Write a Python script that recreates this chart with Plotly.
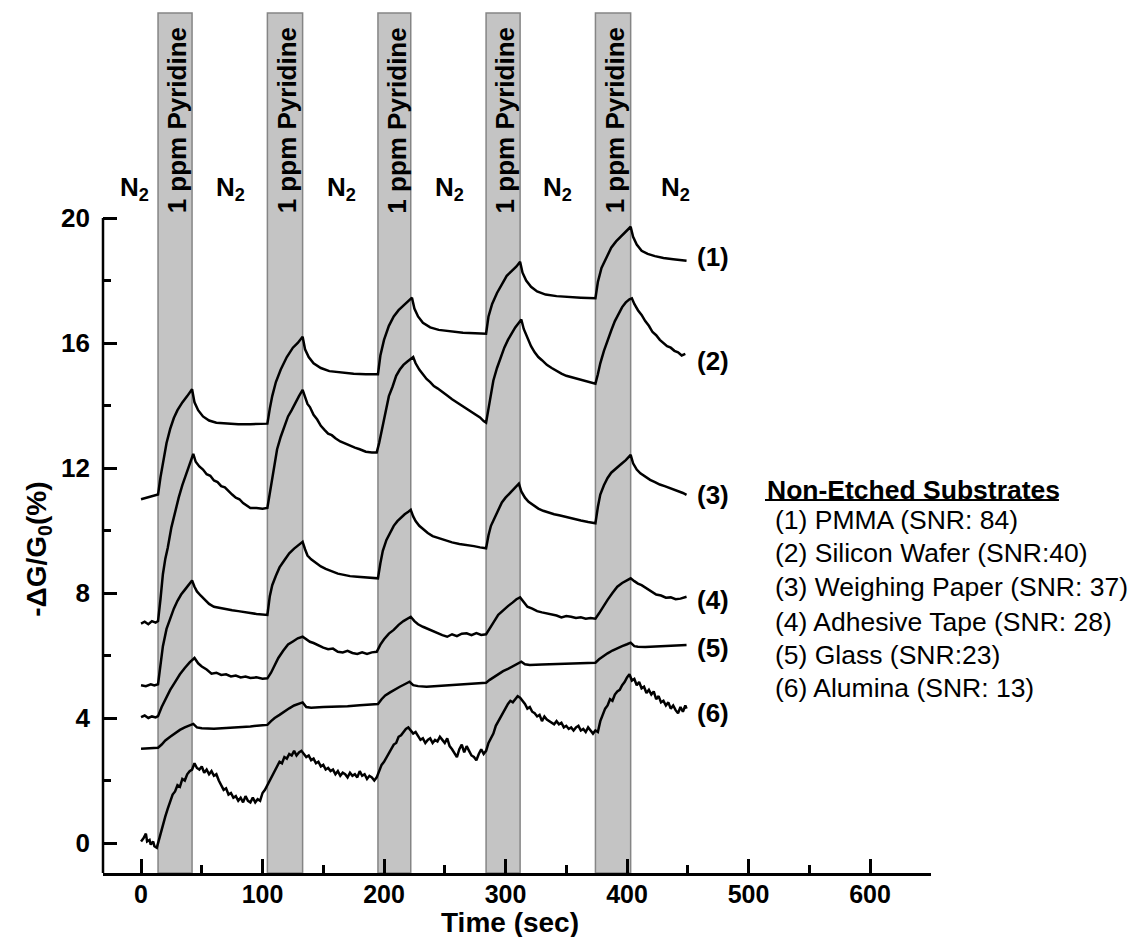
import plotly.graph_objects as go

# ---------------- data ----------------
band_start = [14, 104, 195, 284, 374]
band_end = [42, 133, 222, 312, 403]

n2_label_x = [-5, 74, 164.6, 253.5, 342.4, 440.3]

x_ticks = [0, 100, 200, 300, 400, 500, 600]
x_minor = [50, 150, 250, 350, 450, 550, 650]
y_ticks = [0, 4, 8, 12, 16, 20]
y_minor = [2, 6, 10, 14, 18]

# (1) PMMA
t1 = [0, 5, 10, 14, 16, 18, 21, 24, 27, 30, 34, 38, 42, 44, 47, 51, 56, 62, 70, 80, 90, 100, 104,
      106, 108, 111, 115, 120, 125, 129, 133, 135, 138, 142, 148, 155, 165, 175, 185, 195,
      197, 200, 204, 208, 212, 216, 220, 223, 225, 228, 232, 238, 245, 255, 265, 275, 284,
      286, 289, 293, 297, 301, 305, 309, 312, 314, 317, 321, 326, 333, 342, 352, 362, 374,
      376, 379, 383, 387, 391, 395, 399, 403, 405, 408, 412, 417, 423, 430, 438, 446, 449]
v1 = [11.0, 11.05, 11.1, 11.15, 11.7, 12.2, 12.8, 13.25, 13.6, 13.85, 14.1, 14.3, 14.52, 14.1, 13.85, 13.65, 13.52, 13.45, 13.42, 13.4, 13.4, 13.4, 13.42,
      13.9, 14.3, 14.75, 15.15, 15.55, 15.85, 16.0, 16.2, 15.8, 15.55, 15.35, 15.2, 15.1, 15.05, 15.02, 15.0, 15.0,
      15.6, 16.1, 16.55, 16.85, 17.05, 17.2, 17.35, 17.45, 17.1, 16.85, 16.65, 16.5, 16.42, 16.37, 16.33, 16.31, 16.3,
      16.85, 17.25, 17.6, 17.9, 18.15, 18.3, 18.45, 18.6, 18.25, 18.0, 17.8, 17.65, 17.55, 17.5, 17.47, 17.45, 17.43,
      17.95, 18.4, 18.75, 19.05, 19.25, 19.4, 19.55, 19.72, 19.4, 19.15, 18.95, 18.85, 18.78, 18.72, 18.68, 18.65, 18.63]

# (2) Silicon Wafer
t2 = [0, 3, 6, 9, 12, 14, 16, 18, 20, 22, 25, 28, 31, 34, 37, 40, 43, 45, 48, 51, 54, 57, 60, 63, 66, 69, 72, 75, 78, 81, 84, 87, 90, 95, 100, 104,
      106, 108, 110, 112, 115, 118, 121, 124, 127, 130, 133, 135, 137, 139, 142, 145, 148, 151, 154, 157, 160, 164, 168, 172, 176, 180, 185, 190, 194,
      196, 198, 200, 202, 204, 207, 210, 213, 216, 219, 222, 224, 226, 229, 232, 235, 238, 241, 244, 248, 252, 256, 260, 264, 268, 272, 276, 279, 282, 284,
      286, 288, 290, 293, 296, 299, 302, 305, 308, 311, 313, 315, 317, 319, 321, 324, 327, 330, 334, 338, 342, 346, 350, 355, 360, 365, 370, 374,
      376, 378, 381, 384, 387, 390, 393, 396, 399, 402, 404, 406, 409, 412, 415, 418, 421, 424, 427, 430, 433, 436, 439, 442, 445, 448]
v2 = [7.02, 7.08, 7.0, 7.1, 7.05, 7.1, 7.8, 8.6, 9.1, 9.45, 10.1, 10.6, 11.05, 11.45, 11.8, 12.15, 12.45, 12.2, 12.05, 11.95, 11.8, 11.75, 11.6, 11.55, 11.42, 11.38, 11.25, 11.15, 11.05, 11.0, 10.88, 10.8, 10.72, 10.72, 10.7, 10.72,
      11.2, 11.7, 12.2, 12.6, 13.0, 13.35, 13.65, 13.85, 14.1, 14.3, 14.5, 14.3, 14.05, 13.95, 13.7, 13.55, 13.35, 13.22, 13.1, 13.05, 12.95, 12.85, 12.78, 12.72, 12.65, 12.6, 12.52, 12.5, 12.5,
      12.8, 13.2, 13.55, 13.95, 14.3, 14.6, 14.95, 15.15, 15.3, 15.4, 15.5, 15.55, 15.35, 15.15, 15.0, 14.85, 14.75, 14.62, 14.55, 14.42, 14.32, 14.2, 14.1, 14.0, 13.92, 13.8, 13.7, 13.62, 13.5, 13.45,
      13.9, 14.4, 14.8, 15.2, 15.55, 15.85, 16.1, 16.3, 16.5, 16.65, 16.75, 16.45, 16.25, 16.1, 15.9, 15.7, 15.55, 15.45, 15.3, 15.2, 15.1, 15.02, 14.95, 14.9, 14.85, 14.8, 14.75, 14.7,
      15.0, 15.35, 15.75, 16.1, 16.4, 16.7, 16.95, 17.15, 17.3, 17.4, 17.43, 17.25, 17.05, 16.9, 16.7, 16.55, 16.35, 16.25, 16.1, 16.0, 15.9, 15.85, 15.75, 15.7, 15.6, 15.65]

# (3) Weighing Paper
t3 = [0, 4, 8, 11, 14, 16, 18, 21, 24, 27, 30, 33, 36, 39, 42, 44, 46, 49, 52, 56, 60, 65, 70, 75, 80, 85, 90, 95, 100, 104,
      106, 108, 111, 114, 118, 122, 126, 130, 133, 135, 137, 140, 144, 148, 152, 157, 162, 167, 172, 178, 184, 190, 195,
      197, 199, 202, 205, 208, 211, 214, 217, 220, 222, 224, 226, 229, 232, 236, 240, 245, 250, 256, 262, 268, 274, 279, 284,
      286, 288, 291, 294, 297, 300, 304, 308, 311, 313, 316, 319, 323, 327, 331, 335, 340, 345, 350, 356, 362, 368, 374,
      376, 378, 381, 384, 387, 391, 395, 399, 403, 405, 408, 411, 415, 419, 423, 427, 431, 436, 441, 446, 449]
v3 = [5.05, 5.02, 5.08, 5.04, 5.08, 5.7, 6.3, 6.85, 7.2, 7.5, 7.75, 7.95, 8.1, 8.25, 8.4, 8.2, 8.05, 7.92, 7.8, 7.65, 7.56, 7.52, 7.47, 7.45, 7.42, 7.38, 7.36, 7.33, 7.3, 7.3,
      7.9, 8.25, 8.55, 8.82, 9.05, 9.27, 9.42, 9.55, 9.64, 9.4, 9.2, 9.08, 8.95, 8.85, 8.77, 8.7, 8.62, 8.58, 8.54, 8.52, 8.5, 8.48, 8.47,
      8.95, 9.35, 9.7, 9.95, 10.15, 10.3, 10.42, 10.52, 10.6, 10.66, 10.45, 10.3, 10.15, 10.05, 9.92, 9.82, 9.75, 9.68, 9.62, 9.57, 9.54, 9.5, 9.46, 9.43,
      9.85, 10.15, 10.4, 10.65, 10.9, 11.05, 11.22, 11.38, 11.5, 11.25, 11.05, 10.92, 10.8, 10.7, 10.63, 10.58, 10.52, 10.48, 10.44, 10.38, 10.32, 10.27, 10.23,
      10.75, 11.15, 11.45, 11.68, 11.85, 12.0, 12.12, 12.25, 12.42, 12.15, 11.95, 11.83, 11.72, 11.62, 11.55, 11.47, 11.42, 11.35, 11.28, 11.2, 11.14]

# (4) Adhesive Tape
t4 = [0, 3, 6, 9, 12, 14, 17, 20, 24, 28, 32, 36, 40, 44, 47, 50, 54, 58, 62, 66, 70, 74, 78, 82, 86, 90, 95, 100, 104,
      107, 110, 113, 117, 121, 125, 129, 133, 136, 139, 142, 146, 150, 154, 158, 162, 166, 170, 174, 178, 182, 186, 190, 194,
      197, 200, 204, 208, 212, 216, 219, 222, 225, 228, 232, 236, 240, 244, 248, 252, 256, 260, 264, 268, 272, 276, 280, 284,
      287, 290, 294, 298, 302, 306, 309, 312, 315, 318, 322, 326, 330, 334, 338, 342, 346, 350, 354, 358, 362, 366, 370, 374,
      377, 380, 384, 388, 392, 396, 400, 403, 406, 409, 412, 416, 420, 424, 428, 432, 436, 440, 444, 447, 449]
v4 = [4.03, 4.08, 4.0, 4.05, 4.02, 4.06, 4.35, 4.6, 4.9, 5.15, 5.4, 5.6, 5.78, 5.92, 5.75, 5.65, 5.55, 5.42, 5.45, 5.38, 5.4, 5.33, 5.36, 5.3, 5.33, 5.28, 5.3, 5.26, 5.27,
      5.45, 5.7, 5.92, 6.15, 6.35, 6.45, 6.55, 6.6, 6.52, 6.44, 6.4, 6.32, 6.25, 6.2, 6.22, 6.12, 6.1, 6.15, 6.08, 6.05, 6.1, 6.05, 6.1, 6.12,
      6.35, 6.52, 6.7, 6.82, 6.98, 7.1, 7.18, 7.24, 7.1, 7.0, 6.92, 6.85, 6.78, 6.72, 6.65, 6.6, 6.68, 6.62, 6.7, 6.71, 6.65, 6.72, 6.66, 6.68,
      6.85, 7.05, 7.3, 7.45, 7.58, 7.7, 7.8, 7.86, 7.7, 7.56, 7.5, 7.42, 7.38, 7.35, 7.3, 7.28, 7.22, 7.26, 7.24, 7.2, 7.22, 7.18, 7.2, 7.18,
      7.35, 7.55, 7.78, 8.0, 8.2, 8.32, 8.4, 8.47, 8.38, 8.3, 8.25, 8.15, 8.05, 7.95, 7.92, 7.85, 7.86, 7.8, 7.82, 7.86, 7.88]

# (5) Glass
t5 = [0, 7, 14, 17, 20, 24, 28, 32, 36, 40, 43, 46, 50, 60, 70, 80, 90, 100, 104,
      107, 110, 114, 118, 122, 126, 130, 133, 136, 140, 150, 160, 170, 180, 190, 195,
      198, 201, 205, 209, 213, 217, 221, 224, 228, 235, 245, 255, 265, 275, 284,
      287, 290, 294, 298, 302, 306, 310, 313, 316, 320, 330, 340, 350, 360, 370, 374,
      377, 380, 384, 388, 392, 396, 400, 403, 406, 409, 415, 425, 435, 445, 449]
v5 = [3.02, 3.03, 3.05, 3.15, 3.28, 3.4, 3.52, 3.62, 3.7, 3.76, 3.81, 3.7, 3.67, 3.66, 3.68, 3.7, 3.73, 3.77, 3.78,
      3.9, 4.0, 4.1, 4.22, 4.31, 4.4, 4.46, 4.5, 4.35, 4.33, 4.35, 4.36, 4.38, 4.41, 4.43, 4.45,
      4.6, 4.72, 4.82, 4.92, 5.0, 5.08, 5.16, 5.05, 5.02, 5.0, 5.03, 5.06, 5.08, 5.1, 5.13,
      5.22, 5.3, 5.4, 5.5, 5.57, 5.65, 5.73, 5.8, 5.72, 5.7, 5.71, 5.72, 5.74, 5.75, 5.76, 5.77,
      5.88, 5.97, 6.07, 6.16, 6.24, 6.3, 6.36, 6.41, 6.3, 6.28, 6.27, 6.29, 6.31, 6.33, 6.34]

# (6) Alumina
t6 = [0, 2, 4, 5, 7, 8, 10, 11, 13, 14, 16, 18, 20, 22, 24, 26, 28, 30, 32, 34, 36, 38, 40, 42, 44, 46, 48, 50, 52, 54, 56, 58, 60,
      62, 64, 66, 68, 70, 72, 74, 76, 78, 80, 82, 84, 86, 88, 90, 92, 94, 96, 98, 100, 102, 104, 106, 108, 110, 112, 114, 116, 118, 120,
      122, 124, 126, 128, 130, 132, 134, 136, 138, 140, 142, 144, 146, 148, 150, 152, 154, 156, 158, 160, 162, 164, 166, 168, 170, 172,
      174, 176, 178, 180, 182, 184, 186, 188, 190, 192, 194, 196, 198, 200, 202, 204, 206, 208, 210, 212, 214, 216, 218, 220, 222, 224,
      226, 228, 230, 232, 234, 236, 238, 240, 242, 244, 246, 248, 250, 252, 254, 256, 258, 260, 262, 264, 266, 268, 270, 272, 274, 276,
      278, 280, 282, 284, 286, 288, 290, 292, 294, 296, 298, 300, 302, 304, 306, 308, 310, 312, 314, 316, 318, 320, 322, 324, 326, 328,
      330, 332, 334, 336, 338, 340, 342, 344, 346, 348, 350, 352, 354, 356, 358, 360, 362, 364, 366, 368, 370, 372, 374, 376, 378, 380,
      382, 384, 386, 388, 390, 392, 394, 396, 398, 400, 402, 404, 406, 408, 410, 412, 414, 416, 418, 420, 422, 424, 426, 428, 430, 432,
      434, 436, 438, 440, 442, 444, 446, 448, 449]
v6 = [0.05, 0.15, 0.3, 0.05, 0.1, -0.05, 0.05, -0.1, -0.15, 0.0, 0.3, 0.6, 0.85, 1.1, 1.3, 1.55, 1.65, 1.85, 1.8, 2.05, 2.0, 2.2, 2.3, 2.35, 2.55, 2.4, 2.35, 2.45, 2.25, 2.35, 2.2, 2.3, 2.15,
      2.2, 2.0, 1.85, 1.7, 1.75, 1.55, 1.6, 1.45, 1.5, 1.35, 1.45, 1.3, 1.5, 1.35, 1.3, 1.45, 1.3, 1.4, 1.35, 1.6, 1.7, 1.85, 2.05, 2.2, 2.35, 2.45, 2.6, 2.55, 2.75, 2.7,
      2.85, 2.8, 2.95, 2.8, 2.9, 2.95, 2.85, 2.75, 2.8, 2.65, 2.7, 2.55, 2.6, 2.45, 2.5, 2.35, 2.4, 2.3, 2.35, 2.2, 2.3, 2.15, 2.25, 2.2, 2.1, 2.25,
      2.15, 2.2, 2.1, 2.3, 2.15, 2.2, 2.05, 2.15, 2.1, 2.0, 2.1, 2.3, 2.5, 2.6, 2.75, 2.9, 3.0, 3.15, 3.2, 3.4, 3.45, 3.55, 3.65, 3.7, 3.6, 3.5,
      3.55, 3.4, 3.3, 3.35, 3.2, 3.3, 3.35, 3.2, 3.3, 3.25, 3.4, 3.3, 3.2, 3.35, 3.1, 3.0, 2.85, 2.75, 3.0, 3.15, 2.9, 3.1, 2.95, 2.8, 2.75, 2.65,
      2.85, 3.0, 2.85, 2.95, 3.2, 3.35, 3.5, 3.75, 3.9, 4.0, 4.2, 4.3, 4.45, 4.55, 4.5, 4.6, 4.7, 4.65, 4.55, 4.45, 4.3, 4.35, 4.2, 4.15, 4.05, 4.1,
      3.9, 4.05, 3.95, 3.9, 3.85, 3.8, 3.9, 3.8, 3.85, 3.7, 3.75, 3.65, 3.7, 3.6, 3.7, 3.75, 3.6, 3.65, 3.55, 3.7, 3.6, 3.5, 3.6, 3.55, 3.9, 4.1,
      4.3, 4.4, 4.6, 4.55, 4.75, 4.85, 4.9, 5.05, 5.15, 5.3, 5.4, 5.2, 5.25, 5.05, 5.15, 4.95, 5.0, 4.8, 4.9, 4.75, 4.85, 4.6, 4.7, 4.5, 4.55, 4.4,
      4.5, 4.3, 4.4, 4.25, 4.15, 4.35, 4.2, 4.4, 4.3]

series_t = [t1, t2, t3, t4, t5, t6]
series_v = [v1, v2, v3, v4, v5, v6]
curve_labels = ["(1)", "(2)", "(3)", "(4)", "(5)", "(6)"]
curve_label_y = [18.75, 15.42, 11.14, 7.78, 6.24, 4.16]

legend_title = "Non-Etched Substrates"
legend_entries = ["(1) PMMA (SNR: 84)", "(2) Silicon Wafer (SNR:40)", "(3) Weighing Paper (SNR: 37)",
                  "(4) Adhesive Tape (SNR: 28)", "(5) Glass (SNR:23)", "(6) Alumina (SNR: 13)"]
legend_y = [10.34, 9.28, 8.19, 7.07, 6.02, 4.96]

# ---------------- figure ----------------
FONT = "Liberation Sans, Arial, sans-serif"
X_RANGE = [-31.3, 650.2]
Y_RANGE = [-0.96, 26.56]

fig = go.Figure()
for t, v in zip(series_t, series_v):
    fig.add_trace(go.Scatter(x=t, y=v, mode="lines",
                             line=dict(color="black", width=2.5, shape="linear"),
                             showlegend=False, hoverinfo="skip"))

shapes = []
for a, b in zip(band_start, band_end):
    shapes.append(dict(type="rect", xref="x", yref="paper", x0=a, x1=b, y0=0, y1=1,
                       fillcolor="#c4c4c4", line=dict(color="#858585", width=1.5), layer="below"))
# left spine only up to 20
shapes.append(dict(type="line", xref="paper", yref="y", x0=0, x1=0, y0=Y_RANGE[0], y1=20,
                   line=dict(color="black", width=2.5)))
# legend title underline
shapes.append(dict(type="line", xref="paper", yref="paper", x0=0.7995, x1=1.1545, y0=0.4337, y1=0.4337,
                   line=dict(color="black", width=2)))

ann = []
for x in n2_label_x:
    ann.append(dict(x=x, y=20.95, xref="x", yref="y", text="<b>N<sub>2</sub></b>", showarrow=False,
                    font=dict(family=FONT, size=26, color="black"), xanchor="center", yanchor="middle"))
for a, b in zip(band_start, band_end):
    ann.append(dict(x=(a + b) / 2 + 1.5, y=23.12, xref="x", yref="y", text="<b>1 ppm Pyridine</b>",
                    textangle=-90, showarrow=False, font=dict(family=FONT, size=26, color="black"),
                    xanchor="center", yanchor="middle"))
for lab, yv in zip(curve_labels, curve_label_y):
    ann.append(dict(x=456, y=yv, xref="x", yref="y", text="<b>" + lab + "</b>", showarrow=False,
                    font=dict(family=FONT, size=26, color="black"), xanchor="left", yanchor="middle"))
ann.append(dict(x=513.5, y=11.3, xref="x", yref="y", text="<b>" + legend_title + "</b>", showarrow=False,
                font=dict(family=FONT, size=26.5, color="black"), xanchor="left", yanchor="middle"))
for txt, yv in zip(legend_entries, legend_y):
    ann.append(dict(x=520.0, y=yv, xref="x", yref="y", text=txt, showarrow=False,
                    font=dict(family=FONT, size=26.5, color="black"), xanchor="left", yanchor="middle"))
# axis titles
ann.append(dict(x=-0.0773, y=0.377, xref="paper", yref="paper", text="<b>-\u0394G/G<sub>0</sub>(%)</b>",
                textangle=-90, showarrow=False, font=dict(family=FONT, size=28, color="black"),
                xanchor="center", yanchor="middle"))
ann.append(dict(x=0.4916, y=-0.0570, xref="paper", yref="paper", text="<b>Time (sec)</b>",
                showarrow=False, font=dict(family=FONT, size=28, color="black"),
                xanchor="center", yanchor="middle"))

# the page body adds an 8px offset; size the figure so it fills the 1146x937 window
fig.update_layout(
    width=1138, height=929,
    margin=dict(l=95, r=215, t=5, b=64),
    paper_bgcolor="white", plot_bgcolor="white",
    shapes=shapes, annotations=ann,
    font=dict(family=FONT, color="black"),
    xaxis=dict(range=X_RANGE, showgrid=False, zeroline=False, showline=True, linecolor="black", linewidth=2.5,
               ticks="inside", ticklen=14, tickwidth=2.5, tickcolor="black",
               tickmode="array", tickvals=x_ticks, ticktext=["<b>%d</b>" % v for v in x_ticks],
               tickfont=dict(family=FONT, size=25, color="black"), ticklabelstandoff=-3,
               minor=dict(tickmode="array", tickvals=x_minor, ticks="inside", ticklen=8, tickwidth=2.5,
                          tickcolor="black", showgrid=False)),
    yaxis=dict(range=Y_RANGE, showgrid=False, zeroline=False, showline=False,
               ticks="inside", ticklen=14, tickwidth=2.5, tickcolor="black",
               tickmode="array", tickvals=y_ticks, ticktext=["<b>%d</b>" % v for v in y_ticks],
               tickfont=dict(family=FONT, size=26, color="black"), ticklabelstandoff=12,
               minor=dict(tickmode="array", tickvals=y_minor, ticks="inside", ticklen=8, tickwidth=2.5,
                          tickcolor="black", showgrid=False)),
)

fig.write_html("out.html")
